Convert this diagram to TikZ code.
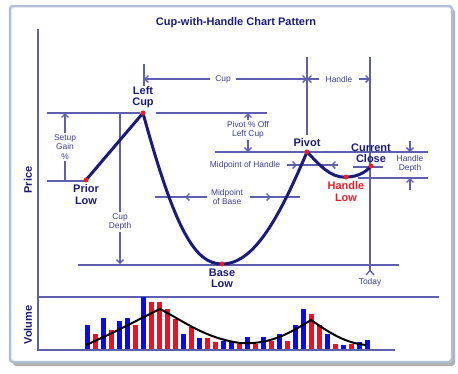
\documentclass[tikz,border=0pt]{standalone}
\usepackage{fontspec}
\setmainfont{Liberation Sans}
\usetikzlibrary{arrows.meta, positioning}

\definecolor{navy}{RGB}{28,28,120}
\definecolor{dimblue}{RGB}{95,95,175}
\definecolor{dimtext}{RGB}{60,60,150}
\definecolor{dotred}{RGB}{235,30,40}
\definecolor{volblue}{RGB}{10,10,225}
\definecolor{volred}{RGB}{225,20,40}
\definecolor{framecol}{RGB}{175,192,210}

\tikzstyle{axisline} = [draw=dimblue, line width=2pt]
\tikzstyle{dimline} = [draw=dimblue, line width=1.3pt]
\tikzstyle{dimarr} = [dimline, -{Straight Barb[length=3.5pt,width=7pt]}]
\tikzstyle{lbl} = [font=\fontsize{11}{11.5}\selectfont\bfseries, text=navy, align=center, inner sep=1pt]
\tikzstyle{dimlbl} = [font=\fontsize{8.4}{9.5}\selectfont, text=dimtext, align=center, inner sep=1.5pt]
\tikzstyle{reddot} = [circle, fill=dotred, inner sep=0pt, minimum size=5pt]
\tikzstyle{pricecurve} = [draw=navy, line width=3pt, line join=round]
\tikzstyle{trend} = [draw=black, line width=2pt]

\begin{document}
\begin{tikzpicture}[x=1pt, y=-1pt]
	\useasboundingbox (0,0) rectangle (458,373);
	% frame
	\fill[black!30, rounded corners=3pt] (13,9) rectangle (455,366);
	\draw[framecol, line width=2.5pt, fill=white, rounded corners=3pt] (10,6) rectangle (452,362);

	\node [font=\fontsize{11}{13}\selectfont\bfseries, text=navy] (title) at (236,23) {Cup-with-Handle Chart Pattern};

	% axes
	\draw [axisline] (38,29) -- (38,350) -- (395,350);
	\draw [axisline] (38,297) -- (439,297);
	\node [lbl, rotate=90] (pricelbl) at (28,180) {Price};
	\node [lbl, rotate=90] (vollbl) at (28,325) {Volume};

	% chart points
	\coordinate (priorlow) at (86,180);
	\coordinate (leftcup) at (143,113);
	\coordinate (baselow) at (222,264);
	\coordinate (pivot) at (307,152);
	\coordinate (handlelow) at (346,177);
	\coordinate (curclose) at (371,166);

	% level lines
	\draw [dimline] (47,113) -- (140,113);
	\draw [dimline] (156,113) -- (267,113);
	\draw [dimline] (47,181) -- (84,181);
	\draw [dimline] (78,265) -- (399,265);
	\draw [dimline] (215,152) -- (428,152);
	\draw [dimline] (353,167) -- (383,167);
	\draw [dimline] (358,178) -- (428,178);

	% verticals
	\draw [dimline] (144,64) -- (144,86);
	\draw [dimline] (307,57) -- (307,135);
	\draw [dimline] (370,57) -- (370,271);
	\coordinate (todaytip) at (370,270.5);
	\draw [dimline] (366,275) -- (todaytip) -- (374,275);

	% cup / handle
	\node [dimlbl, inner xsep=5pt] (cuplbl) at (223,79) {Cup};
	\draw [dimarr] (cuplbl.west) -- (144,79);
	\draw [dimarr] (cuplbl.east) -- (307,79);
	\node [dimlbl, inner xsep=6pt] (handlelbl) at (339,79) {Handle};
	\draw [dimarr] (handlelbl.west) -- (307,79);
	\draw [dimarr] (handlelbl.east) -- (370,79);

	% setup gain
	\node [dimlbl] (setup) at (65,147) {Setup\\Gain\\\%};
	\draw [dimarr] (setup.north) -- (65,113);
	\draw [dimline] (setup.south) -- (65,181);

	% cup depth
	\node [dimlbl] (cupdepth) at (120,222) {Cup\\Depth};
	\draw [dimline] (cupdepth.north) -- (120,113);
	\draw [dimarr] (cupdepth.south) -- (120,264);

	% pivot off left cup
	\node [dimlbl] (pivoff) at (248,130) {Pivot \% Off\\Left Cup};
	\draw [dimarr] (pivoff.north) -- (248,113);
	\draw [dimarr] (pivoff.south) -- (248,152);

	% midpoint of handle
	\node [dimlbl] (midhandle) at (245,165) {Midpoint of Handle};
	\draw [dimline] (287,165) -- (338,165);
	\draw [dimarr] (287,165) -- (297,165);
	\draw [dimarr] (338,165) -- (331,165);

	% midpoint of base
	\node [dimlbl] (midbase) at (227,197) {Midpoint\\of Base};
	\draw [dimline] (155,197) -- (207,197);
	\draw [dimarr] (200,197) -- (185,197);
	\draw [dimline] (250,197) -- (300,197);
	\draw [dimarr] (255,197) -- (271,197);

	% handle depth
	\node [dimlbl] (hdepth) at (410,164) {Handle\\Depth};
	\draw [dimarr] (410,141) -- (410,152);
	\draw [dimarr] (410,190) -- (410,178);

	\node [dimlbl, below=6pt of todaytip] (today) {Today};

	% volume bars
	\foreach \h/\c [count=\i from 0] in {325.3/volblue, 333.7/volred, 317.7/volblue, 329.7/volred,
		321.3/volblue, 317.7/volblue, 325.3/volred, 297/volblue, 302/volred, 302/volred,
		309.3/volred, 319.3/volred, 333.7/volblue, 327/volred, 337.7/volblue, 337.7/volred,
		342/volred, 341.3/volblue, 341.3/volblue, 343.7/volred, 337/volblue, 343.7/volred,
		337/volblue, 341.3/volred, 333.7/volblue, 341.3/volred, 325.3/volblue, 309.3/volblue,
		313.7/volred, 325.3/volred, 333.7/volblue, 343.7/volred, 345.3/volblue, 343.7/volred,
		342/volblue, 340.3/volblue}
		\fill [\c] ({87.3+8*\i-2.8},349) rectangle ({87.3+8*\i+2.8},\h);

	\draw [trend] (86,345) .. controls (120,330) and (145,316) .. (160,309)
		.. controls (185,322) and (205,338) .. (240,343)
		.. controls (270,345) and (290,333) .. (311,320)
		.. controls (330,333) and (345,343) .. (366,345);

	% price curve
	\draw [pricecurve] (priorlow) -- (leftcup) .. controls (175,230) and (195,264) .. (baselow)
		.. controls (255,264) and (280,215) .. (pivot)
		.. controls (320,165) and (330,178) .. (handlelow)
		.. controls (358,177) and (366,172) .. (curclose);

	\node [reddot] (pldot) at (priorlow) {};
	\node [reddot] (lcdot) at (leftcup) {};
	\node [reddot] (bldot) at (baselow) {};
	\node [reddot] (pvdot) at (pivot) {};
	\node [reddot] (hldot) at (handlelow) {};
	\node [reddot] (ccdot) at (curclose) {};

	\node [lbl, above=1pt of lcdot] (lclbl) {Left\\Cup};
	\node [lbl, below=1pt of pldot] (pllbl) {Prior\\Low};
	\node [lbl, below=1pt of bldot] (bllbl) {Base\\Low};
	\node [lbl, above=1pt of pvdot] (pvlbl) {Pivot};
	\node [lbl, text=dotred, below=1pt of hldot] (hllbl) {Handle\\Low};
	\node [lbl, above=-1pt of ccdot] (cclbl) {Current\\Close};
\end{tikzpicture}
\end{document}
